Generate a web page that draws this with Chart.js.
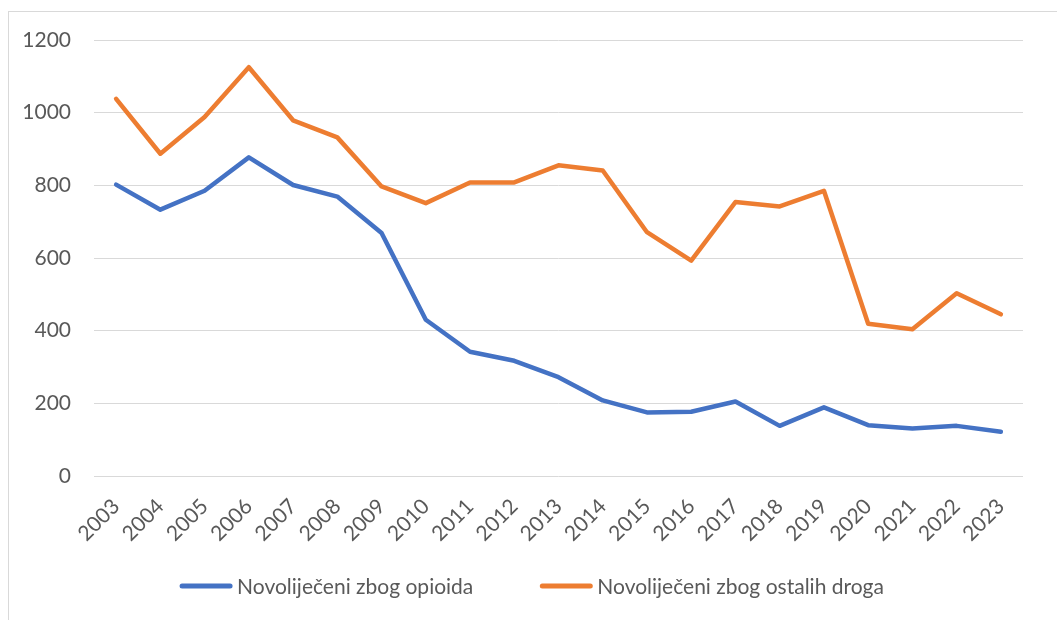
<!DOCTYPE html>
<html>
<head>
<meta charset="utf-8">
<script src="https://cdn.jsdelivr.net/npm/chart.js@4.4.1/dist/chart.umd.min.js"></script>
<style>
  html, body { margin: 0; padding: 0; background: #fff; }
</style>
</head>
<body>
<canvas id="myChart" width="1057" height="620"></canvas>
<script>
// data
const years = ["2003","2004","2005","2006","2007","2008","2009","2010","2011","2012","2013",
               "2014","2015","2016","2017","2018","2019","2020","2021","2022","2023"];
const opioidi = [802, 733, 785, 877, 801, 769, 669, 430, 342, 317, 272,
                 208, 175, 177, 205, 138, 189, 140, 131, 138, 122];
const ostaleDroge = [1038, 887, 988, 1125, 979, 932, 797, 751, 808, 808, 855,
                     841, 671, 593, 754, 742, 785, 419, 404, 503, 445];
const seriesNames = ["Novoliječeni zbog opioida", "Novoliječeni zbog ostalih droga"];
const yMin = 0, yMax = 1200, yStep = 200;

const textColor = '#595959';
const gridColor = '#d9d9d9';
const fontFamily = 'Lato, "Open Sans", sans-serif';
const fontSize = 21;

// outer frame like the Excel chart box
const framePlugin = {
    id: 'frame',
    beforeDraw(chart) {
        const ctx = chart.ctx;
        ctx.save();
        ctx.fillStyle = '#fff';
        ctx.fillRect(0, 0, chart.width, chart.height);
        ctx.strokeStyle = gridColor;
        ctx.lineWidth = 1;
        ctx.strokeRect(8.5, 11.5, chart.width + 20, chart.height + 20);
        ctx.restore();
    }
};

// legend drawn under the axis, line sample + label
const legendPlugin = {
    id: 'bottomLegend',
    afterDraw(chart) {
        const ctx = chart.ctx;
        const lineLen = 52, gapText = 5, gapItems = 67, y = 586;
        ctx.save();
        ctx.font = fontSize + 'px ' + fontFamily;
        ctx.textBaseline = 'middle';
        const items = chart.data.datasets.map(ds => ({
            text: ds.label, color: ds.borderColor,
            w: lineLen + gapText + ctx.measureText(ds.label).width
        }));
        let total = items.reduce((s, it) => s + it.w, 0) + gapItems * (items.length - 1);
        let x = 532 - total / 2;
        items.forEach(it => {
            ctx.strokeStyle = it.color;
            ctx.lineWidth = 5;
            ctx.lineCap = 'round';
            ctx.beginPath();
            ctx.moveTo(x + 2, y);
            ctx.lineTo(x + lineLen - 2, y);
            ctx.stroke();
            ctx.fillStyle = textColor;
            ctx.fillText(it.text, x + lineLen + gapText, y + 1);
            x += it.w + gapItems;
        });
        ctx.restore();
    }
};

new Chart("myChart", {
    type: "line",
    data: {
        labels: years,
        datasets: [{
            label: seriesNames[0],
            data: opioidi,
            borderColor: "#4472C4",
            backgroundColor: "#4472C4",
            borderWidth: 4.5,
            pointRadius: 0,
            tension: 0,
            borderCapStyle: 'round',
            borderJoinStyle: 'round'
        }, {
            label: seriesNames[1],
            data: ostaleDroge,
            borderColor: "#ED7D31",
            backgroundColor: "#ED7D31",
            borderWidth: 4.5,
            pointRadius: 0,
            tension: 0,
            borderCapStyle: 'round',
            borderJoinStyle: 'round'
        }]
    },
    options: {
        responsive: false,
        animation: false,
        layout: {
            padding: { left: 0, right: 34, top: 40, bottom: 64 }
        },
        plugins: {
            legend: { display: false },
            tooltip: { enabled: false }
        },
        scales: {
            x: {
                offset: true,
                grid: { display: false },
                border: { display: false },
                ticks: {
                    color: textColor,
                    font: { family: fontFamily, size: fontSize },
                    minRotation: 45,
                    maxRotation: 45,
                    autoSkip: false,
                    padding: 10
                },
                afterFit(scale) { scale.height = 80; }
            },
            y: {
                min: yMin,
                max: yMax,
                grid: { color: gridColor, lineWidth: 1, drawTicks: false },
                border: { display: false },
                ticks: {
                    stepSize: yStep,
                    color: textColor,
                    font: { family: fontFamily, size: fontSize },
                    padding: 23,
                    callback: v => String(v)
                },
                afterFit(scale) { scale.width = 94; }
            }
        }
    },
    plugins: [framePlugin, legendPlugin]
});
</script>
</body>
</html>
